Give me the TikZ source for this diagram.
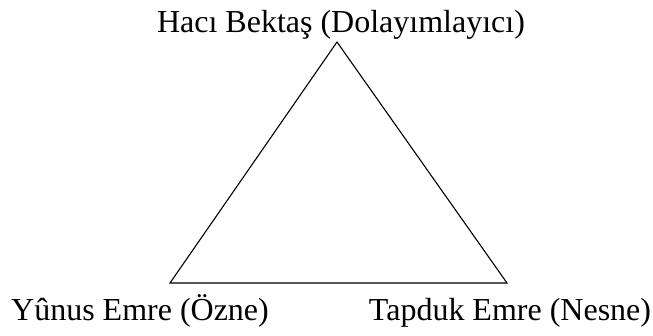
\documentclass[tikz,border=0pt]{standalone}
\usepackage{fontspec}
\setmainfont{Liberation Serif}
\begin{document}
\begin{tikzpicture}[x=1pt,y=-1pt,
  lbl/.style={anchor=base,inner sep=0pt,font=\fontsize{32}{36}\selectfont},
  tri/.style={draw=black,line width=1.1pt,line join=miter}]
\useasboundingbox (0,0) rectangle (653,335);
\coordinate (A) at (337,42);
\coordinate (B) at (170,283);
\coordinate (C) at (507,283);
\draw[tri] (A) -- (B) -- (C) -- cycle;
\node[lbl] (top) at (341,32) {Hacı Bektaş (Dolayımlayıcı)};
\node[lbl] (left) at (140,320) {Yûnus Emre (Özne)};
\node[lbl] (right) at (510,320) {Tapduk Emre (Nesne)};
\end{tikzpicture}
\end{document}
